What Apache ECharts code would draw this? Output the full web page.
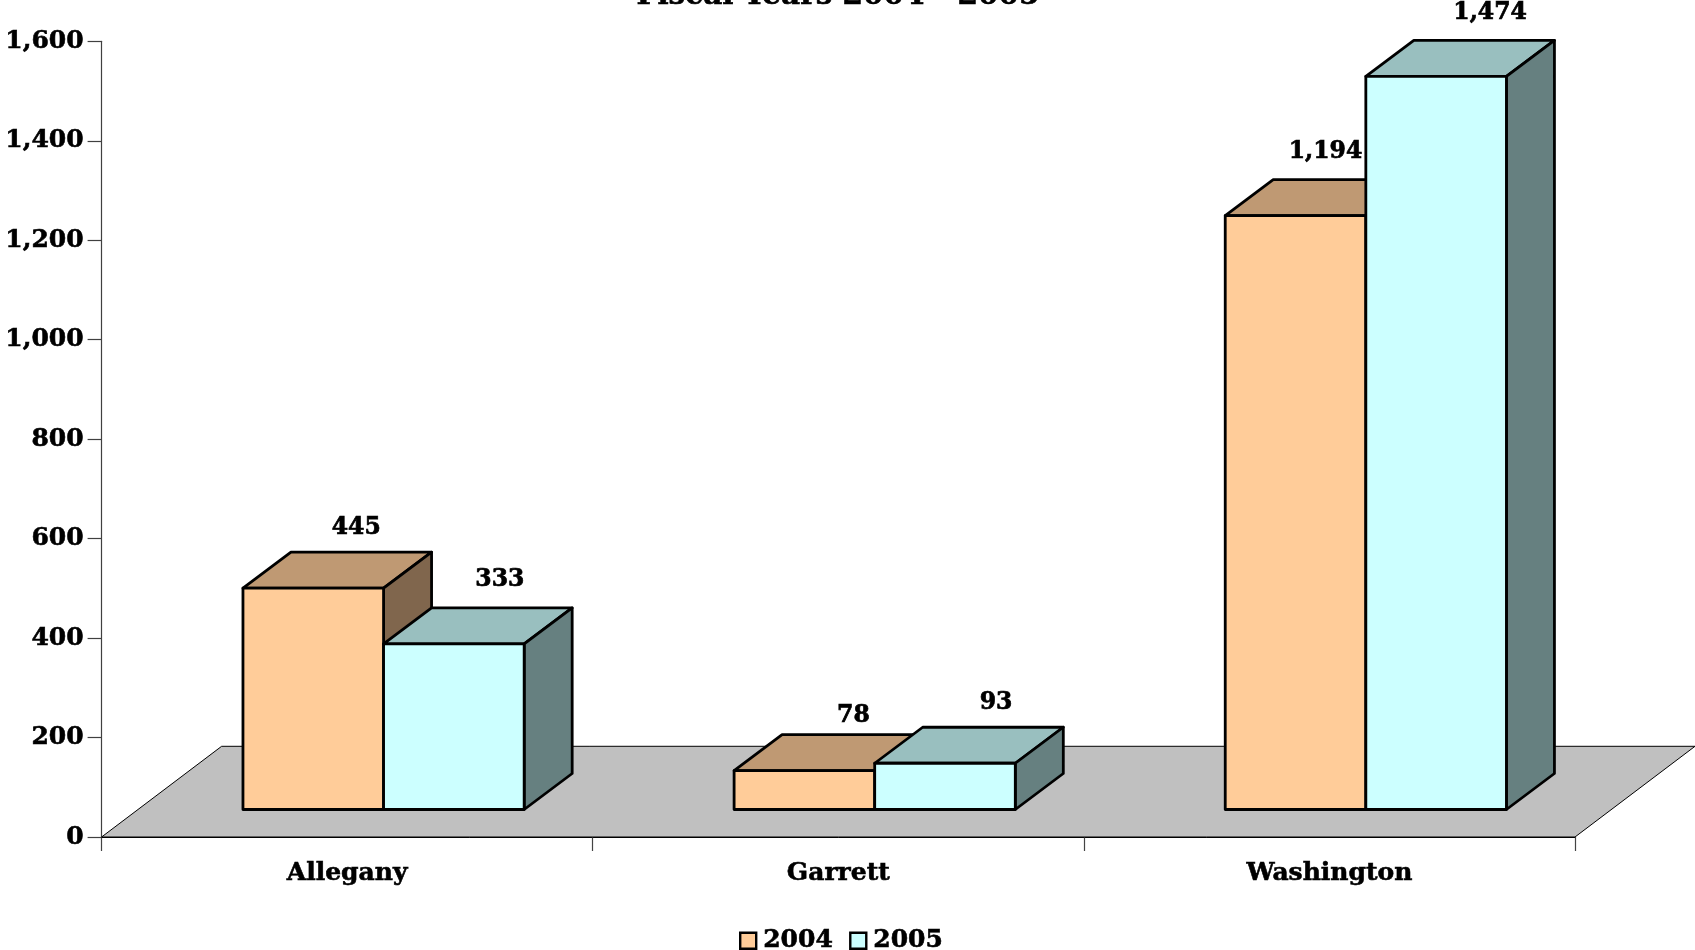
<!DOCTYPE html>
<html><head><meta charset="utf-8">
<style>html,body{margin:0;padding:0;background:#fff}#c{width:1695px;height:950px}</style>
<script src="https://cdn.jsdelivr.net/npm/echarts@6/dist/echarts.min.js"></script>
</head><body><div id="c"></div>
<script>
const categories = ['Allegany', 'Garrett', 'Washington'];
const values2004 = [445, 78, 1194];
const values2005 = [333, 93, 1474];
const yTicks = { min: 0, max: 1600, interval: 200 };
const titleText = 'Fiscal Years 2004 - 2005';
// label offsets from the front-top centre of each box, px
const labelNudge2004 = [[43, 60], [49, 55], [30, 64]];
const labelNudge2005 = [[46, 64], [51, 60], [54, 64]];

const FONT = '"DejaVu Serif"';
const BOLDER = { textBorderColor: '#000', textBorderWidth: 0.6 };
const BAR_W = 140.6, DEPTH_X = 48, DEPTH_Y = 36, BASE_X = 36.4, BASE_Y = 27.5, FLOOR_X = 120, FLOOR_Y = 90.7;

function boxSeries(name, data, nudge, front, top, side, slot) {
  return {
    name, type: 'custom', z: 3 + slot, clip: false,
    itemStyle: { color: front, borderColor: '#000', borderWidth: 2 },
    data: data.map((v, i) => [i, v]),
    encode: { x: 0, y: 1 },
    renderItem(params, api) {
      const i = api.value(0), v = api.value(1);
      const p = api.coord([i, v]), b = api.coord([i, 0]);
      const x0 = p[0] + BASE_X + (slot - 1) * BAR_W, x1 = x0 + BAR_W;
      const y0 = b[1] - BASE_Y, y1 = p[1] - BASE_Y;
      const stroke = { stroke: '#000', lineWidth: 2.8, lineJoin: 'round' };
      const n = nudge[params.dataIndex];
      return { type: 'group', children: [
        { type: 'polygon', shape: { points: [[x0, y1], [x0 + DEPTH_X, y1 - DEPTH_Y], [x1 + DEPTH_X, y1 - DEPTH_Y], [x1, y1]] }, style: { fill: top, ...stroke } },
        { type: 'polygon', shape: { points: [[x1, y1], [x1 + DEPTH_X, y1 - DEPTH_Y], [x1 + DEPTH_X, y0 - DEPTH_Y], [x1, y0]] }, style: { fill: side, ...stroke } },
        { type: 'rect', shape: { x: x0, y: y1, width: BAR_W, height: y0 - y1 }, style: { fill: front, ...stroke } },
        { type: 'text', style: { x: (x0 + x1) / 2 + n[0], y: y1 - n[1], text: v.toLocaleString('en-US'), fill: '#000', font: 'bold 23.5px ' + FONT, align: 'center', verticalAlign: 'middle', stroke: '#000', lineWidth: 0.7 }, z2: 10 }
      ] };
    }
  };
}

const chart = echarts.init(document.getElementById('c'), null, { renderer: 'canvas' });
chart.setOption({
  animation: false,
  backgroundColor: '#fff',
  title: { text: titleText, left: 833, textAlign: 'center', top: -24, textStyle: { fontFamily: FONT, fontWeight: 'bold', fontSize: 29.5, color: '#000', ...BOLDER } },
  legend: {
    left: 734, top: 923, itemWidth: 16, itemHeight: 16, itemGap: 16, icon: 'rect',
    textStyle: { fontFamily: FONT, fontWeight: 'bold', fontSize: 25, color: '#000', padding: [0, 0, 0, 2], ...BOLDER },
    selectedMode: false,
    data: [
      { name: '2004', itemStyle: { color: '#FFCC99', borderColor: '#000', borderWidth: 2.4 } },
      { name: '2005', itemStyle: { color: '#CCFFFF', borderColor: '#000', borderWidth: 2.4 } }
    ]
  },
  grid: { left: 101.6, top: 41.3, width: 1473.4, height: 795.7 },
  xAxis: {
    type: 'category', data: categories,
    axisLine: { lineStyle: { color: '#000', width: 1 } },
    axisTick: { show: true, length: 14, alignWithLabel: false, lineStyle: { color: '#444', width: 1.2 } },
    axisLabel: { fontFamily: FONT, fontWeight: 'bold', fontSize: 25, color: '#000', margin: 24, ...BOLDER }
  },
  yAxis: {
    type: 'value', min: yTicks.min, max: yTicks.max, interval: yTicks.interval,
    splitLine: { show: false },
    axisLine: { show: true, lineStyle: { color: '#404040', width: 1.2 } },
    axisTick: { show: true, length: 14, lineStyle: { color: '#404040', width: 1.2 } },
    axisLabel: { fontFamily: FONT, fontWeight: 'bold', fontSize: 25, color: '#000', margin: 18, padding: [2, 0, 0, 0], ...BOLDER, formatter: v => v.toLocaleString('en-US') }
  },
  series: [
    {
      name: 'floor', type: 'custom', z: 1, clip: false, silent: true,
      data: [[0, 0]], encode: { x: 0, y: 1 },
      renderItem(params, api) {
        const c = params.coordSys, y = c.y + c.height, x = c.x, r = x + c.width;
        return { type: 'polygon', shape: { points: [[x, y], [x + FLOOR_X, y - FLOOR_Y], [r + FLOOR_X, y - FLOOR_Y], [r, y]] }, style: { fill: '#C0C0C0', stroke: '#000', lineWidth: 1 } };
      }
    },
    boxSeries('2004', values2004, labelNudge2004, '#FFCC99', '#BF9973', '#80664D', 0),
    boxSeries('2005', values2005, labelNudge2005, '#CCFFFF', '#99BFBF', '#668080', 1)
  ]
});
</script></body></html>
